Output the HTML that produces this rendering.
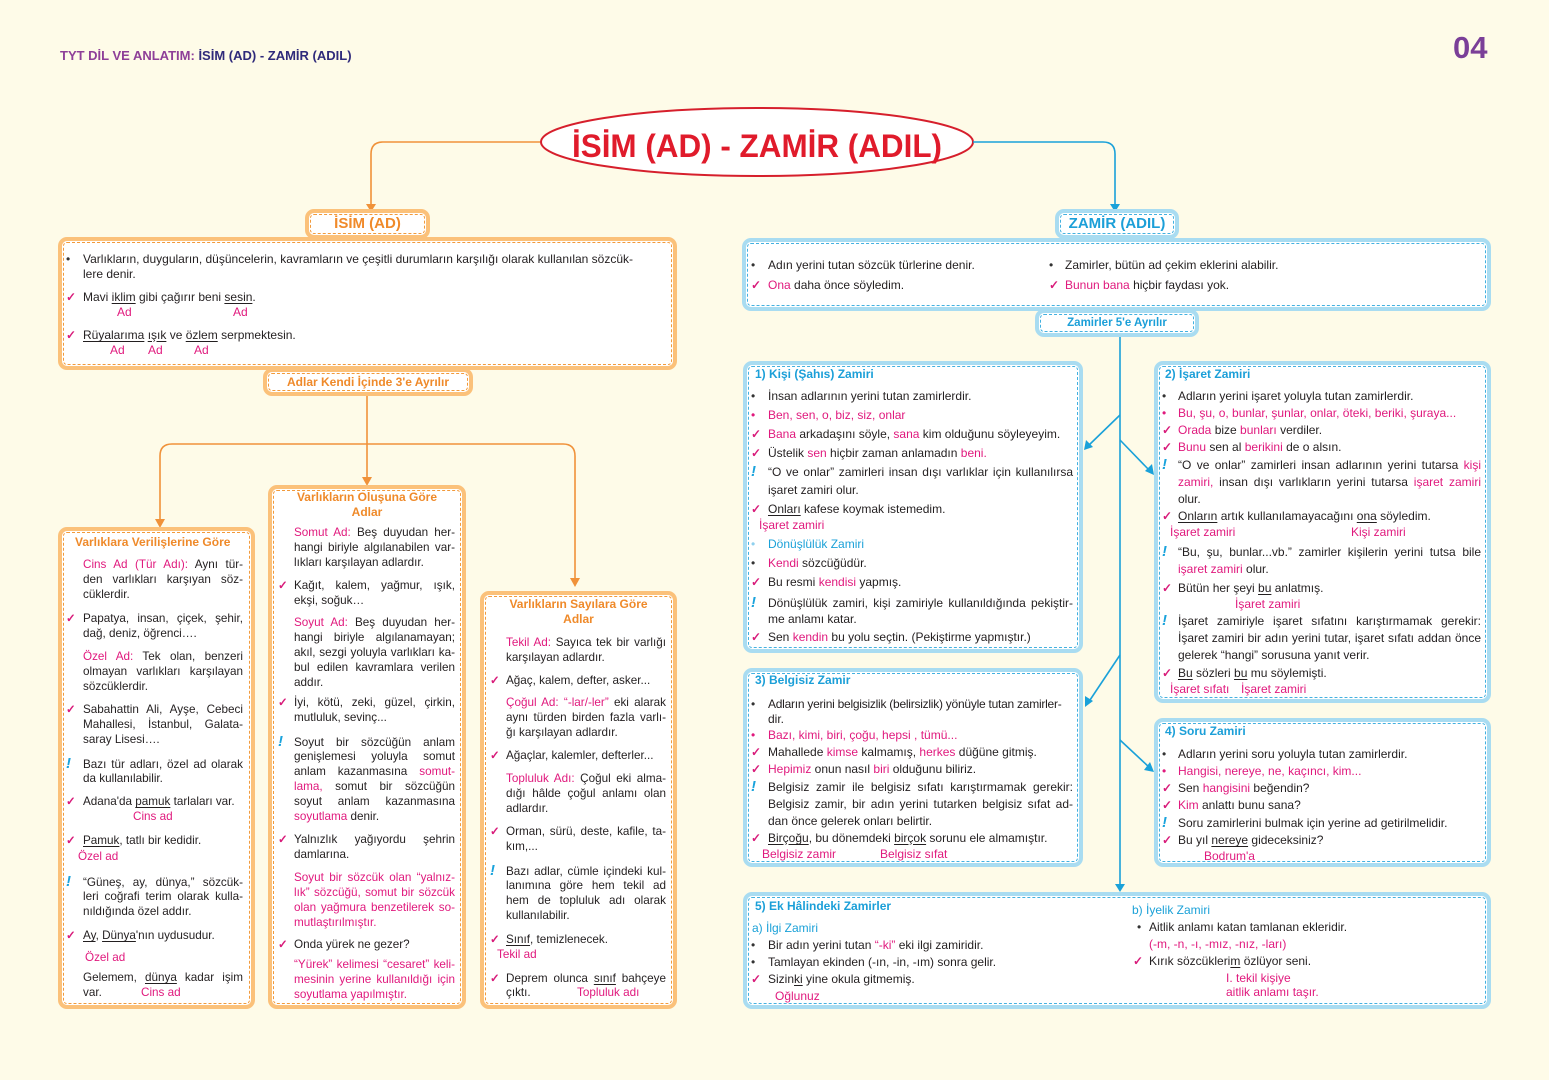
<!DOCTYPE html>
<html><head><meta charset="utf-8">
<style>
*{margin:0;padding:0;box-sizing:border-box}
body{width:1549px;height:1080px;background:#fefbe8;position:relative;overflow:hidden;font-family:"Liberation Sans",Arial,sans-serif;color:#231f20}
.bx{position:absolute;background:#fff;border-radius:9px}
.o{border:4px solid #fbc17a;outline:1px dashed #f29a3b;outline-offset:-6px}
.bl{border:4px solid #a9dcf1;outline:1px dashed #43b1e0;outline-offset:-6px}
.t{position:absolute;white-space:nowrap;font-size:12px;line-height:16px}
.L{font-size:11.7px}
.j{white-space:normal;text-align:justify;text-align-last:justify;height:16px}
.m{color:#e0197d}
.bu{color:#1ba1d8}
.u{text-decoration:underline;text-underline-offset:2px}
.i{display:inline-block;width:17px}
.c:before{content:"✓";color:#d81b7a;font-weight:bold}
.x:before{content:"!";color:#1aa3dc;font-weight:bold;font-size:15px;font-style:italic}
.d:before{content:"•";color:#333}
.dm:before{content:"•";color:#e0197d}
.db:before{content:"•";color:#8fd0ee}
.oh{color:#ef8a2a;font-weight:bold;font-size:12px}
.bh{color:#1b9fd8;font-weight:bold;font-size:12px}
</style></head><body>

<div class="t" style="left:60px;top:47px;font-size:13px;font-weight:bold;line-height:18px"><span style="color:#8e3f98">TYT DİL VE ANLATIM:</span> <span style="color:#2f2a7a">İSİM (AD) - ZAMİR (ADIL)</span></div>
<div class="t" style="left:1453px;top:30px;font-size:31px;font-weight:bold;line-height:36px;color:#7b3f98">04</div>

<svg width="1549" height="1080" style="position:absolute;left:0;top:0">
<ellipse cx="757" cy="142" rx="216" ry="34" fill="#fff" stroke="#d61f2c" stroke-width="2"/>
<text x="572" y="157" textLength="370" lengthAdjust="spacingAndGlyphs" font-family="Liberation Sans" font-weight="bold" font-size="32" fill="#e01b2b">İSİM (AD) - ZAMİR (ADIL)</text>
<g fill="none" stroke="#f0923a" stroke-width="1.6">
<path d="M540 142 H383 Q371 142 371 154 V206"/>
<path d="M367 396 V444"/>
<path d="M160 524 V456 Q160 444 172 444 H563 Q575 444 575 456 V582"/>
<path d="M367 444 V481"/>
</g>
<g fill="#f0923a">
<path d="M366 204 L376 204 L371 212Z"/>
<path d="M155 519 L165 519 L160 528Z"/>
<path d="M362 477 L372 477 L367 486Z"/>
<path d="M570 578 L580 578 L575 587Z"/>
</g>
<g fill="none" stroke="#1aa1d9" stroke-width="1.6">
<path d="M973 142 H1103 Q1115 142 1115 154 V206"/>
<path d="M1120 337 V888"/>
<path d="M1120 415 L1088 446"/>
<path d="M1120 440 L1150 471"/>
<path d="M1120 655 L1088 703"/>
<path d="M1120 740 L1150 768"/>
</g>
<g fill="#1aa1d9">
<path d="M1110 204 L1120 204 L1115 212Z"/>
<path d="M1115 884 L1125 884 L1120 892Z"/>
<path d="M1084 450 L1086 440 L1093 447Z"/>
<path d="M1154 475 L1145 471 L1152 464Z"/>
<path d="M1085 707 L1085 696 L1093 701Z"/>
<path d="M1154 772 L1144 770 L1150 762Z"/>
</g>
</svg>

<!-- Isim -->
<div class="bx o" style="left:305px;top:209px;width:125px;height:30px"></div>
<div class="t" style="left:305px;top:216px;width:125px;text-align:center;color:#f08a2a;font-weight:bold;font-size:15px">İSİM (AD)</div>
<div class="bx o" style="left:58px;top:237px;width:619px;height:133px"></div>
<div class="t" style="left:66px;top:251px"><span class="i d"></span>Varlıkların, duyguların, düşüncelerin, kavramların ve çeşitli durumların karşılığı olarak kullanılan sözcük-</div>
<div class="t" style="left:83px;top:266px">lere denir.</div>
<div class="t" style="left:66px;top:289px"><span class="i c"></span>Mavi <span class="u">iklim</span> gibi çağırır beni <span class="u">sesin</span>.</div>
<div class="t m" style="left:117px;top:304px">Ad</div><div class="t m" style="left:233px;top:304px">Ad</div>
<div class="t" style="left:66px;top:327px"><span class="i c"></span><span class="u">Rüyalarıma</span> <span class="u">ışık</span> ve <span class="u">özlem</span> serpmektesin.</div>
<div class="t m" style="left:110px;top:342px">Ad</div><div class="t m" style="left:148px;top:342px">Ad</div><div class="t m" style="left:194px;top:342px">Ad</div>
<div class="bx o" style="left:263px;top:368px;width:210px;height:28px"></div>
<div class="t oh" style="left:263px;top:374px;width:210px;text-align:center">Adlar Kendi İçinde 3'e Ayrılır</div>

<!-- col1 -->
<div class="bx o" style="left:58px;top:527px;width:197px;height:482px"></div>
<div class="t oh" style="left:75px;top:534px">Varlıklara Verilişlerine Göre</div>
<div class="t L j" style="left:83px;top:557px;width:160px"><span class="m">Cins Ad (Tür Adı):</span> Aynı tür-</div>
<div class="t L j" style="left:83px;top:572px;width:160px">den varlıkları karşıyan söz-</div>
<div class="t L" style="left:83px;top:587px">cüklerdir.</div>
<div class="t L j" style="left:66px;top:611px;width:177px"><span class="i c"></span>Papatya, insan, çiçek, şehir,</div>
<div class="t L" style="left:83px;top:626px">dağ, deniz, öğrenci….</div>
<div class="t L j" style="left:83px;top:649px;width:160px"><span class="m">Özel Ad:</span> Tek olan, benzeri</div>
<div class="t L j" style="left:83px;top:664px;width:160px">olmayan varlıkları karşılayan</div>
<div class="t L" style="left:83px;top:679px">sözcüklerdir.</div>
<div class="t L j" style="left:66px;top:702px;width:177px"><span class="i c"></span>Sabahattin Ali, Ayşe, Cebeci</div>
<div class="t L j" style="left:83px;top:717px;width:160px">Mahallesi, İstanbul, Galata-</div>
<div class="t L" style="left:83px;top:732px">saray Lisesi….</div>
<div class="t L j" style="left:66px;top:756px;width:177px"><span class="i x"></span>Bazı tür adları, özel ad olarak</div>
<div class="t L" style="left:83px;top:771px">da kullanılabilir.</div>
<div class="t L" style="left:66px;top:794px"><span class="i c"></span>Adana'da <span class="u">pamuk</span> tarlaları var.</div>
<div class="t L m" style="left:133px;top:809px">Cins ad</div>
<div class="t L" style="left:66px;top:833px"><span class="i c"></span><span class="u">Pamuk</span>, tatlı bir kedidir.</div>
<div class="t L m" style="left:78px;top:849px">Özel ad</div>
<div class="t L j" style="left:66px;top:874px;width:177px"><span class="i x"></span>“Güneş, ay, dünya,” sözcük-</div>
<div class="t L j" style="left:83px;top:889px;width:160px">leri coğrafi terim olarak kulla-</div>
<div class="t L" style="left:83px;top:904px">nıldığında özel addır.</div>
<div class="t L" style="left:66px;top:928px"><span class="i c"></span><span class="u">Ay</span>, <span class="u">Dünya</span>'nın uydusudur.</div>
<div class="t L m" style="left:85px;top:950px">Özel ad</div>
<div class="t L j" style="left:83px;top:970px;width:160px">Gelemem, <span class="u">dünya</span> kadar işim</div>
<div class="t L" style="left:83px;top:985px">var.</div><div class="t L m" style="left:141px;top:985px">Cins ad</div>

<!-- col2 -->
<div class="bx o" style="left:268px;top:485px;width:198px;height:524px"></div>
<div class="t oh" style="left:268px;top:490px;width:198px;text-align:center;line-height:15px">Varlıkların Oluşuna Göre<br>Adlar</div>
<div class="t L j" style="left:294px;top:525px;width:161px"><span class="m">Somut Ad:</span> Beş duyudan her-</div>
<div class="t L j" style="left:294px;top:540px;width:161px">hangi biriyle algılanabilen var-</div>
<div class="t L" style="left:294px;top:555px">lıkları karşılayan adlardır.</div>
<div class="t L j" style="left:278px;top:578px;width:177px"><span class="i c" style="width:16px"></span>Kağıt, kalem, yağmur, ışık,</div>
<div class="t L" style="left:294px;top:593px">ekşi, soğuk…</div>
<div class="t L j" style="left:294px;top:615px;width:161px"><span class="m">Soyut Ad:</span> Beş duyudan her-</div>
<div class="t L j" style="left:294px;top:630px;width:161px">hangi biriyle algılanamayan;</div>
<div class="t L j" style="left:294px;top:645px;width:161px">akıl, sezgi yoluyla varlıkları ka-</div>
<div class="t L j" style="left:294px;top:660px;width:161px">bul edilen kavramlara verilen</div>
<div class="t L" style="left:294px;top:675px">addır.</div>
<div class="t L j" style="left:278px;top:695px;width:177px"><span class="i c" style="width:16px"></span>İyi, kötü, zeki, güzel, çirkin,</div>
<div class="t L" style="left:294px;top:710px">mutluluk, sevinç...</div>
<div class="t L j" style="left:278px;top:734px;width:177px"><span class="i x" style="width:16px"></span>Soyut bir sözcüğün anlam</div>
<div class="t L j" style="left:294px;top:749px;width:161px">genişlemesi yoluyla somut</div>
<div class="t L j" style="left:294px;top:764px;width:161px">anlam kazanmasına <span class="m">somut-</span></div>
<div class="t L j" style="left:294px;top:779px;width:161px"><span class="m">lama,</span> somut bir sözcüğün</div>
<div class="t L j" style="left:294px;top:794px;width:161px">soyut anlam kazanmasına</div>
<div class="t L" style="left:294px;top:809px"><span class="m">soyutlama</span> denir.</div>
<div class="t L j" style="left:278px;top:832px;width:177px"><span class="i c" style="width:16px"></span>Yalnızlık yağıyordu şehrin</div>
<div class="t L" style="left:294px;top:847px">damlarına.</div>
<div class="t L j m" style="left:294px;top:870px;width:161px">Soyut bir sözcük olan “yalnız-</div>
<div class="t L j m" style="left:294px;top:885px;width:161px">lık” sözcüğü, somut bir sözcük</div>
<div class="t L j m" style="left:294px;top:900px;width:161px">olan yağmura benzetilerek so-</div>
<div class="t L m" style="left:294px;top:915px">mutlaştırılmıştır.</div>
<div class="t L" style="left:278px;top:937px"><span class="i c" style="width:16px"></span>Onda yürek ne gezer?</div>
<div class="t L j m" style="left:294px;top:957px;width:161px">“Yürek” kelimesi “cesaret” keli-</div>
<div class="t L j m" style="left:294px;top:972px;width:161px">mesinin yerine kullanıldığı için</div>
<div class="t L m" style="left:294px;top:987px">soyutlama yapılmıştır.</div>

<!-- col3 -->
<div class="bx o" style="left:480px;top:591px;width:197px;height:418px"></div>
<div class="t oh" style="left:480px;top:597px;width:197px;text-align:center;line-height:15px">Varlıkların Sayılara Göre<br>Adlar</div>
<div class="t L j" style="left:506px;top:635px;width:160px"><span class="m">Tekil Ad:</span> Sayıca tek bir varlığı</div>
<div class="t L" style="left:506px;top:650px">karşılayan adlardır.</div>
<div class="t L" style="left:490px;top:673px"><span class="i c" style="width:16px"></span>Ağaç, kalem, defter, asker...</div>
<div class="t L j" style="left:506px;top:695px;width:160px"><span class="m">Çoğul Ad: “-lar/-ler”</span> eki alarak</div>
<div class="t L j" style="left:506px;top:710px;width:160px">aynı türden birden fazla varlı-</div>
<div class="t L" style="left:506px;top:725px">ğı karşılayan adlardır.</div>
<div class="t L" style="left:490px;top:748px"><span class="i c" style="width:16px"></span>Ağaçlar, kalemler, defterler...</div>
<div class="t L j" style="left:506px;top:771px;width:160px"><span class="m">Topluluk Adı:</span> Çoğul eki alma-</div>
<div class="t L j" style="left:506px;top:786px;width:160px">dığı hâlde çoğul anlamı olan</div>
<div class="t L" style="left:506px;top:801px">adlardır.</div>
<div class="t L j" style="left:490px;top:824px;width:176px"><span class="i c" style="width:16px"></span>Orman, sürü, deste, kafile, ta-</div>
<div class="t L" style="left:506px;top:839px">kım,...</div>
<div class="t L j" style="left:490px;top:863px;width:176px"><span class="i x" style="width:16px"></span>Bazı adlar, cümle içindeki kul-</div>
<div class="t L j" style="left:506px;top:878px;width:160px">lanımına göre hem tekil ad</div>
<div class="t L j" style="left:506px;top:893px;width:160px">hem de topluluk adı olarak</div>
<div class="t L" style="left:506px;top:908px">kullanılabilir.</div>
<div class="t L" style="left:490px;top:932px"><span class="i c" style="width:16px"></span><span class="u">Sınıf</span>, temizlenecek.</div>
<div class="t L m" style="left:497px;top:947px">Tekil ad</div>
<div class="t L j" style="left:490px;top:971px;width:176px"><span class="i c" style="width:16px"></span>Deprem olunca <span class="u">sınıf</span> bahçeye</div>
<div class="t L" style="left:506px;top:985px">çıktı.</div><div class="t L m" style="left:577px;top:985px">Topluluk adı</div>

<!-- Zamir -->
<div class="bx bl" style="left:1055px;top:209px;width:124px;height:30px"></div>
<div class="t" style="left:1055px;top:216px;width:124px;text-align:center;color:#1b9fd8;font-weight:bold;font-size:15px">ZAMİR (ADIL)</div>
<div class="bx bl" style="left:742px;top:238px;width:749px;height:73px"></div>
<div class="t" style="left:751px;top:257px"><span class="i d"></span>Adın yerini tutan sözcük türlerine denir.</div>
<div class="t" style="left:751px;top:277px"><span class="i c"></span><span class="m">Ona</span> daha önce söyledim.</div>
<div class="t" style="left:1049px;top:257px"><span class="i d" style="width:16px"></span>Zamirler, bütün ad çekim eklerini alabilir.</div>
<div class="t" style="left:1049px;top:277px"><span class="i c" style="width:16px"></span><span class="m">Bunun bana</span> hiçbir faydası yok.</div>
<div class="bx bl" style="left:1035px;top:309px;width:164px;height:28px"></div>
<div class="t bh" style="left:1035px;top:315px;width:164px;text-align:center;font-size:11.5px">Zamirler 5'e Ayrılır</div>

<!-- box1 -->
<div class="bx bl" style="left:743px;top:361px;width:340px;height:292px"></div>
<div class="t bh" style="left:755px;top:366px">1) Kişi (Şahıs) Zamiri</div>
<div class="t" style="left:751px;top:388px"><span class="i d"></span>İnsan adlarının yerini tutan zamirlerdir.</div>
<div class="t" style="left:751px;top:407px"><span class="i dm"></span><span class="m">Ben, sen, o, biz, siz, onlar</span></div>
<div class="t" style="left:751px;top:426px"><span class="i c"></span><span class="m">Bana</span> arkadaşını söyle, <span class="m">sana</span> kim olduğunu söyleyeyim.</div>
<div class="t" style="left:751px;top:445px"><span class="i c"></span>Üstelik <span class="m">sen</span> hiçbir zaman anlamadın <span class="m">beni.</span></div>
<div class="t j" style="left:751px;top:464px;width:322px"><span class="i x"></span>“O ve onlar” zamirleri insan dışı varlıklar için kullanılırsa</div>
<div class="t" style="left:768px;top:482px">işaret zamiri olur.</div>
<div class="t" style="left:751px;top:501px"><span class="i c"></span><span class="u">Onları</span> kafese koymak istemedim.</div>
<div class="t m" style="left:759px;top:517px">İşaret zamiri</div>
<div class="t" style="left:751px;top:536px"><span class="i db"></span><span class="bu">Dönüşlülük Zamiri</span></div>
<div class="t" style="left:751px;top:555px"><span class="i d"></span><span class="m">Kendi</span> sözcüğüdür.</div>
<div class="t" style="left:751px;top:574px"><span class="i c"></span>Bu resmi <span class="m">kendisi</span> yapmış.</div>
<div class="t j" style="left:751px;top:595px;width:322px"><span class="i x"></span>Dönüşlülük zamiri, kişi zamiriyle kullanıldığında pekiştir-</div>
<div class="t" style="left:768px;top:611px">me anlamı katar.</div>
<div class="t" style="left:751px;top:629px"><span class="i c"></span>Sen <span class="m">kendin</span> bu yolu seçtin. (Pekiştirme yapmıştır.)</div>

<!-- box2 -->
<div class="bx bl" style="left:1154px;top:361px;width:337px;height:342px"></div>
<div class="t bh" style="left:1165px;top:366px">2) İşaret Zamiri</div>
<div class="t" style="left:1162px;top:388px"><span class="i d" style="width:16px"></span>Adların yerini işaret yoluyla tutan zamirlerdir.</div>
<div class="t" style="left:1162px;top:405px"><span class="i dm" style="width:16px"></span><span class="m">Bu, şu, o, bunlar, şunlar, onlar, öteki, beriki, şuraya...</span></div>
<div class="t" style="left:1162px;top:422px"><span class="i c" style="width:16px"></span><span class="m">Orada</span> bize <span class="m">bunları</span> verdiler.</div>
<div class="t" style="left:1162px;top:439px"><span class="i c" style="width:16px"></span><span class="m">Bunu</span> sen al <span class="m">berikini</span> de o alsın.</div>
<div class="t j" style="left:1162px;top:457px;width:319px"><span class="i x" style="width:16px"></span>“O ve onlar” zamirleri insan adlarının yerini tutarsa <span class="m">kişi</span></div>
<div class="t j" style="left:1178px;top:474px;width:303px"><span class="m">zamiri,</span> insan dışı varlıkların yerini tutarsa <span class="m">işaret zamiri</span></div>
<div class="t" style="left:1178px;top:491px">olur.</div>
<div class="t" style="left:1162px;top:508px"><span class="i c" style="width:16px"></span><span class="u">Onların</span> artık kullanılamayacağını  <span class="u">ona</span> söyledim.</div>
<div class="t m" style="left:1170px;top:524px">İşaret zamiri</div><div class="t m" style="left:1351px;top:524px">Kişi zamiri</div>
<div class="t j" style="left:1162px;top:544px;width:319px"><span class="i x" style="width:16px"></span>“Bu, şu, bunlar...vb.” zamirler kişilerin yerini tutsa bile</div>
<div class="t" style="left:1178px;top:561px"><span class="m">işaret zamiri</span> olur.</div>
<div class="t" style="left:1162px;top:580px"><span class="i c" style="width:16px"></span>Bütün her şeyi <span class="u">bu</span> anlatmış.</div>
<div class="t m" style="left:1235px;top:596px">İşaret zamiri</div>
<div class="t j" style="left:1162px;top:613px;width:319px"><span class="i x" style="width:16px"></span>İşaret zamiriyle işaret sıfatını karıştırmamak gerekir:</div>
<div class="t j" style="left:1178px;top:630px;width:303px">İşaret zamiri bir adın yerini tutar, işaret sıfatı addan önce</div>
<div class="t" style="left:1178px;top:647px">gelerek “hangi” sorusuna yanıt verir.</div>
<div class="t" style="left:1162px;top:665px"><span class="i c" style="width:16px"></span><span class="u">Bu</span>  sözleri  <span class="u">bu</span> mu söylemişti.</div>
<div class="t m" style="left:1170px;top:681px">İşaret sıfatı</div><div class="t m" style="left:1241px;top:681px">İşaret zamiri</div>

<!-- box3 -->
<div class="bx bl" style="left:743px;top:668px;width:340px;height:199px"></div>
<div class="t bh" style="left:755px;top:672px">3) Belgisiz Zamir</div>
<div class="t" style="left:751px;top:696px;letter-spacing:-0.25px"><span class="i d"></span>Adların yerini belgisizlik (belirsizlik) yönüyle tutan zamirler-</div>
<div class="t" style="left:768px;top:711px">dir.</div>
<div class="t" style="left:751px;top:727px"><span class="i dm"></span><span class="m">Bazı, kimi, biri, çoğu, hepsi , tümü...</span></div>
<div class="t" style="left:751px;top:744px"><span class="i c"></span>Mahallede <span class="m">kimse</span> kalmamış, <span class="m">herkes</span> düğüne gitmiş.</div>
<div class="t" style="left:751px;top:761px"><span class="i c"></span><span class="m">Hepimiz</span> onun nasıl <span class="m">biri</span> olduğunu biliriz.</div>
<div class="t j" style="left:751px;top:779px;width:322px"><span class="i x"></span>Belgisiz zamir ile belgisiz sıfatı karıştırmamak gerekir:</div>
<div class="t j" style="left:768px;top:796px;width:305px">Belgisiz zamir, bir adın yerini tutarken belgisiz sıfat ad-</div>
<div class="t" style="left:768px;top:813px">dan önce gelerek onları belirtir.</div>
<div class="t" style="left:751px;top:830px"><span class="i c"></span><span class="u">Birçoğu</span>, bu dönemdeki <span class="u">birçok</span> sorunu ele almamıştır.</div>
<div class="t m" style="left:762px;top:846px">Belgisiz zamir</div><div class="t m" style="left:880px;top:846px">Belgisiz sıfat</div>

<!-- box4 -->
<div class="bx bl" style="left:1154px;top:718px;width:337px;height:149px"></div>
<div class="t bh" style="left:1165px;top:723px">4) Soru Zamiri</div>
<div class="t" style="left:1162px;top:746px"><span class="i d" style="width:16px"></span>Adların yerini soru yoluyla tutan zamirlerdir.</div>
<div class="t" style="left:1162px;top:763px"><span class="i dm" style="width:16px"></span><span class="m">Hangisi, nereye, ne, kaçıncı, kim...</span></div>
<div class="t" style="left:1162px;top:780px"><span class="i c" style="width:16px"></span>Sen <span class="m">hangisini</span> beğendin?</div>
<div class="t" style="left:1162px;top:797px"><span class="i c" style="width:16px"></span><span class="m">Kim</span> anlattı bunu sana?</div>
<div class="t" style="left:1162px;top:815px"><span class="i x" style="width:16px"></span>Soru zamirlerini bulmak için yerine ad getirilmelidir.</div>
<div class="t" style="left:1162px;top:832px"><span class="i c" style="width:16px"></span>Bu yıl <span class="u">nereye</span> gideceksiniz?</div>
<div class="t m" style="left:1204px;top:848px">Bodrum'a</div>

<!-- box5 -->
<div class="bx bl" style="left:743px;top:892px;width:748px;height:117px"></div>
<div class="t bh" style="left:755px;top:898px">5) Ek Hâlindeki Zamirler</div>
<div class="t bu" style="left:752px;top:920px">a) İlgi Zamiri</div>
<div class="t" style="left:751px;top:937px"><span class="i d"></span>Bir adın yerini tutan <span class="m">“-ki”</span> eki ilgi zamiridir.</div>
<div class="t" style="left:751px;top:954px"><span class="i d"></span>Tamlayan ekinden (-ın, -in, -ım) sonra gelir.</div>
<div class="t" style="left:751px;top:971px"><span class="i c"></span>Sizin<span class="u">ki</span> yine okula gitmemiş.</div>
<div class="t m" style="left:775px;top:988px">Oğlunuz</div>
<div class="t bu" style="left:1132px;top:902px">b) İyelik Zamiri</div>
<div class="t" style="left:1137px;top:919px"><span class="i d" style="width:12px"></span>Aitlik anlamı katan tamlanan ekleridir.</div>
<div class="t m" style="left:1149px;top:936px">(-m, -n, -ı, -mız, -nız, -ları)</div>
<div class="t" style="left:1133px;top:953px"><span class="i c" style="width:16px"></span>Kırık sözcükleri<span class="u">m</span> özlüyor seni.</div>
<div class="t m" style="left:1226px;top:971px;line-height:14px">I. tekil kişiye<br>aitlik anlamı taşır.</div>

</body></html>
